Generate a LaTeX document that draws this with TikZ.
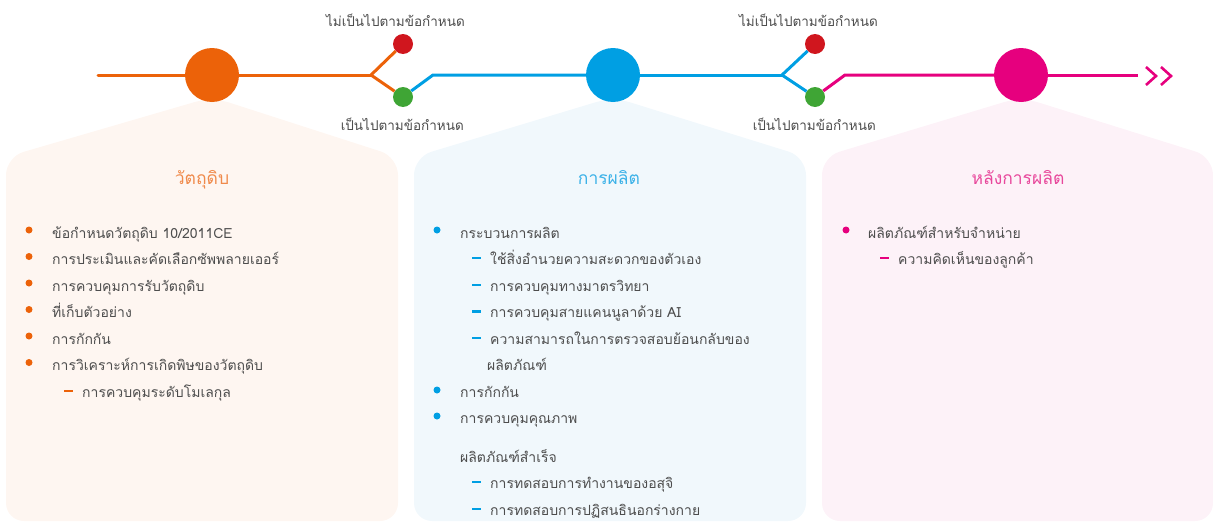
\documentclass[tikz,border=0pt]{standalone}
\usepackage{fontspec}
\newfontfamily\thaifont[Script=Thai]{Loma}
\definecolor{cOr}{HTML}{EC6209}
\definecolor{cBl}{HTML}{009FE3}
\definecolor{cPk}{HTML}{E6007E}
\definecolor{cRd}{HTML}{D0161E}
\definecolor{cGn}{HTML}{3FA535}
\definecolor{pOr}{HTML}{FEF6F1}
\definecolor{pBl}{HTML}{F1F8FC}
\definecolor{pPk}{HTML}{FDF2F8}
\definecolor{tOr}{HTML}{F08A4B}
\definecolor{tBl}{HTML}{3CB2E8}
\definecolor{tPk}{HTML}{E8489C}
\definecolor{txt}{HTML}{4D4D4D}
\begin{document}
\begin{tikzpicture}[x=1pt,y=-1pt,
  big/.style={circle,fill=#1,minimum size=54pt,inner sep=0pt},
  small/.style={circle,fill=#1,minimum size=20pt,inner sep=0pt},
  track/.style={line width=3pt,draw=#1},
  panel/.style={fill=#1,rounded corners=18pt},
  body/.style={anchor=base west,inner sep=0pt,text=txt,font=\thaifont\fontsize{14}{16}\selectfont},
  title/.style={anchor=base,inner sep=0pt,text=#1,font=\thaifont\fontsize{17.5}{19}\selectfont},
  toplbl/.style={anchor=base east,inner sep=0pt,text=txt,font=\thaifont\fontsize{13.5}{16}\selectfont},
  dot/.style={circle,fill=#1,minimum size=7pt,inner sep=0pt},
  dashmark/.style={rectangle,fill=#1,minimum width=9pt,minimum height=2.4pt,inner sep=0pt},
]
\useasboundingbox (0,0) rectangle (1213,522);

% panels
\fill[panel=pOr] (6,521) -- (6,157) -- (212,97) -- (398,157) -- (398,521) -- cycle;
\fill[panel=pBl] (414,521) -- (414,157) -- (613,97) -- (806,157) -- (806,521) -- cycle;
\fill[panel=pPk] (822,521) -- (822,157) -- (1021,97) -- (1213,157) -- (1213,521) -- cycle;

% timeline nodes
\coordinate (s0) at (98,75);
\node[big=cOr] (c1) at (212,75) {};
\coordinate (br1) at (371,75);
\node[small=cRd] (r1) at (403,44) {};
\node[small=cGn] (g1) at (403,97) {};
\coordinate (k1) at (433,75);
\node[big=cBl] (c2) at (613,75) {};
\coordinate (br2) at (782,75);
\node[small=cRd] (r2) at (815,44) {};
\node[small=cGn] (g2) at (815,97) {};
\coordinate (k2) at (845,75);
\node[big=cPk] (c3) at (1021,75) {};
\coordinate (e0) at (1138,75);

\draw[track=cOr,line cap=round] (s0) -- (c1);
\draw[track=cOr] (c1) -- (br1);
\draw[track=cOr] (br1) -- (r1);
\draw[track=cOr] (br1) -- (g1);
\draw[track=cBl,line join=miter] (g1) -- (k1) -- (c2);
\draw[track=cBl] (c2) -- (br2);
\draw[track=cBl] (br2) -- (r2);
\draw[track=cBl] (br2) -- (g2);
\draw[track=cPk,line join=miter] (g2) -- (k2) -- (c3);
\draw[track=cPk] (c3) -- (e0);
\draw[cPk,line width=2.6pt,line join=miter] (1146,67) -- (1156,76) -- (1146,85);
\draw[cPk,line width=2.6pt,line join=miter] (1161,67) -- (1171,76) -- (1161,85);

% top labels
\node[toplbl] (l1) at (465,27) {ไม่เป็นไปตามข้อกำหนด};
\node[toplbl] (l2) at (464,130) {เป็นไปตามข้อกำหนด};
\node[toplbl] (l3) at (878,27) {ไม่เป็นไปตามข้อกำหนด};
\node[toplbl] (l4) at (876,130) {เป็นไปตามข้อกำหนด};

% titles
\node[title=tOr] (h1) at (202,184) {วัตถุดิบ};
\node[title=tBl] (h2) at (609,184) {การผลิต};
\node[title=tPk] (h3) at (1018,184) {หลังการผลิต};

% column 1
\node[dot=cOr] (d11) at (29,230) {};
\node[body] (a11) at (52,238) {ข้อกำหนดวัตถุดิบ 10/2011CE};
\node[dot=cOr] (d12) at (29,256.5) {};
\node[body] (a12) at (52,264.5) {การประเมินและคัดเลือกซัพพลายเออร์};
\node[dot=cOr] (d13) at (29,283) {};
\node[body] (a13) at (52,291) {การควบคุมการรับวัตถุดิบ};
\node[dot=cOr] (d14) at (29,309.5) {};
\node[body] (a14) at (52,317.5) {ที่เก็บตัวอย่าง};
\node[dot=cOr] (d15) at (29,336) {};
\node[body] (a15) at (52,344) {การกักกัน};
\node[dot=cOr] (d16) at (29,362.5) {};
\node[body] (a16) at (52,370.5) {การวิเคราะห์การเกิดพิษของวัตถุดิบ};
\node[dashmark=cOr] (m11) at (68,391) {};
\node[body] (a17) at (82,397) {การควบคุมระดับโมเลกุล};

% column 2
\node[dot=cBl] (d21) at (437,230) {};
\node[body] (a21) at (460,238) {กระบวนการผลิต};
\node[dashmark=cBl] (m21) at (476,258) {};
\node[body] (a22) at (490,264.5) {ใช้สิ่งอำนวยความสะดวกของตัวเอง};
\node[dashmark=cBl] (m22) at (476,285) {};
\node[body] (a23) at (490,291) {การควบคุมทางมาตรวิทยา};
\node[dashmark=cBl] (m23) at (476,311.5) {};
\node[body] (a24) at (490,317.5) {การควบคุมสายแคนนูลาด้วย AI};
\node[dashmark=cBl] (m24) at (476,338) {};
\node[body] (a25) at (490,344) {ความสามารถในการตรวจสอบย้อนกลับของ};
\node[body] (a26) at (487,370.5) {ผลิตภัณฑ์};
\node[dot=cBl] (d22) at (437,390) {};
\node[body] (a27) at (460,397) {การกักกัน};
\node[dot=cBl] (d23) at (437,416) {};
\node[body] (a28) at (460,423.5) {การควบคุมคุณภาพ};
\node[body] (a29) at (460,462) {ผลิตภัณฑ์สำเร็จ};
\node[dashmark=cBl] (m25) at (476,482) {};
\node[body] (a2a) at (490,488.5) {การทดสอบการทำงานของอสุจิ};
\node[dashmark=cBl] (m26) at (476,509) {};
\node[body] (a2b) at (490,515) {การทดสอบการปฏิสนธินอกร่างกาย};

% column 3
\node[dot=cPk] (d31) at (846,230) {};
\node[body] (a31) at (868,238) {ผลิตภัณฑ์สำหรับจำหน่าย};
\node[dashmark=cPk] (m31) at (884,258) {};
\node[body] (a32) at (898,264.5) {ความคิดเห็นของลูกค้า};
\end{tikzpicture}
\end{document}
